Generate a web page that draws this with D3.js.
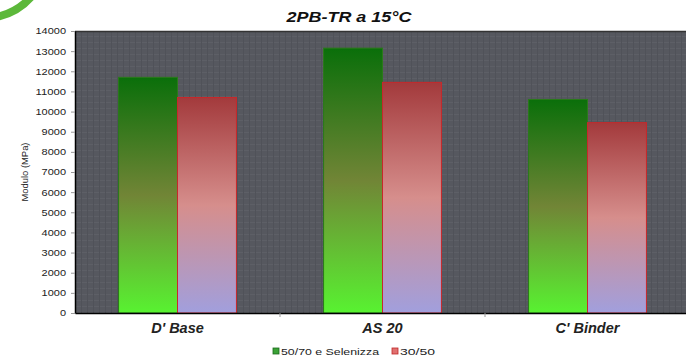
<!DOCTYPE html>
<html>
<head>
<meta charset="utf-8">
<script src="https://cdn.jsdelivr.net/npm/d3@7"></script>
<style>
body { margin: 0; background: #fff; }
svg { display: block; font-family: "Liberation Sans", Arial, sans-serif; }
</style>
</head>
<body>
<svg width="686" height="359"></svg>
<script>
var categories = ["D' Base", "AS 20", "C' Binder"];
var seriesNames = ["50/70 e Selenizza", "30/50"];
var selenizza = [11700, 13150, 10600];
var bitume3050 = [10700, 11450, 9450];
var yTicks = [0, 1000, 2000, 3000, 4000, 5000, 6000, 7000, 8000, 9000, 10000, 11000, 12000, 13000, 14000];

var svg = d3.select("svg"),
    width = +svg.attr("width"),
    height = +svg.attr("height");

var plot = {left: 75, top: 31, right: 690, bottom: 313};

var defs = svg.append("defs");

// bar gradients
var gGreen = defs.append("linearGradient").attr("id", "gGreen")
    .attr("x1", 0).attr("y1", 0).attr("x2", 0).attr("y2", 1);
gGreen.append("stop").attr("offset", "0%").attr("stop-color", "#0a6f0a");
gGreen.append("stop").attr("offset", "50%").attr("stop-color", "#718536");
gGreen.append("stop").attr("offset", "100%").attr("stop-color", "#58f231");

var gRed = defs.append("linearGradient").attr("id", "gRed")
    .attr("x1", 0).attr("y1", 0).attr("x2", 0).attr("y2", 1);
gRed.append("stop").attr("offset", "0%").attr("stop-color", "#a33a3c");
gRed.append("stop").attr("offset", "50%").attr("stop-color", "#d68e8c");
gRed.append("stop").attr("offset", "100%").attr("stop-color", "#a19fdd");

// texture for the plot background
var pat = defs.append("pattern").attr("id", "tex")
    .attr("width", 6).attr("height", 6).attr("patternUnits", "userSpaceOnUse");
pat.append("rect").attr("width", 6).attr("height", 6).attr("fill", "#56585f");
pat.append("line").attr("x1", 0).attr("y1", 0.5).attr("x2", 6).attr("y2", 0.5)
    .attr("stroke", "#5d5f66").attr("stroke-width", 1);
pat.append("line").attr("x1", 3.5).attr("y1", 0).attr("x2", 3.5).attr("y2", 6)
    .attr("stroke", "#505259").attr("stroke-width", 1);

// decorative swoosh, top left
svg.append("path")
    .attr("d", "M-3,17 Q18,12 31,-3")
    .attr("fill", "none")
    .attr("stroke", "#5cb83a")
    .attr("stroke-width", 8);

var x0 = d3.scaleBand().domain(categories).range([plot.left, plot.right]);
var x1 = d3.scaleBand().domain(seriesNames).range([0, x0.bandwidth() * 0.575]);
var y = d3.scaleLinear().domain([0, 14000]).range([plot.bottom, plot.top]);

svg.append("rect")
    .attr("x", plot.left).attr("y", plot.top)
    .attr("width", plot.right - plot.left).attr("height", plot.bottom - plot.top)
    .attr("fill", "url(#tex)");

svg.append("line")
    .attr("x1", plot.left).attr("x2", plot.right)
    .attr("y1", plot.top + 0.5).attr("y2", plot.top + 0.5)
    .attr("stroke", "#333").attr("stroke-width", 1.5);

var rows = categories.map(function(c, i) {
    return {cat: c, vals: [selenizza[i], bitume3050[i]]};
});

var groupOffset = (x0.bandwidth() - x0.bandwidth() * 0.575) / 2;

var group = svg.append("g").selectAll("g")
    .data(rows)
    .enter().append("g")
      .attr("transform", function(d) { return "translate(" + (x0(d.cat) + groupOffset) + ",0)"; });

group.selectAll("rect")
    .data(function(d) { return d.vals.map(function(v, j) { return {name: seriesNames[j], v: v}; }); })
    .enter().append("rect")
      .attr("x", function(d) { return x1(d.name); })
      .attr("y", function(d) { return y(d.v); })
      .attr("width", x1.bandwidth())
      .attr("height", function(d) { return y(0) - y(d.v); })
      .attr("fill", function(d, j) { return j === 0 ? "url(#gGreen)" : "url(#gRed)"; })
      .attr("stroke", function(d, j) { return j === 0 ? "#2a7a1a" : "#c8282a"; })
      .attr("stroke-width", 1);

// y axis (labels in the reference are stretched wide)
var yAxis = svg.append("g")
    .attr("transform", "translate(" + plot.left + ",0)")
    .call(d3.axisLeft(y).tickValues(yTicks).tickSize(4).tickSizeOuter(0).tickPadding(5).tickFormat(d3.format("d")));
yAxis.selectAll("text")
    .attr("font-size", 9).attr("fill", "#222")
    .attr("textLength", function(d) { return String(d).length * 6.1; })
    .attr("lengthAdjust", "spacingAndGlyphs");
yAxis.select(".domain").attr("stroke", "#000").attr("stroke-width", 1.5);
yAxis.selectAll(".tick line").attr("stroke", "#999");

// x axis
var xAxis = svg.append("g")
    .attr("transform", "translate(0," + plot.bottom + ")")
    .call(d3.axisBottom(x0).tickSize(0).tickPadding(8));
xAxis.select(".domain").attr("stroke", "#000").attr("stroke-width", 1.5);
xAxis.selectAll("text")
    .attr("font-size", 14.5).attr("font-weight", "bold").attr("font-style", "italic")
    .attr("fill", "#222").attr("dy", "0.8em");
svg.append("g").selectAll("line")
    .data(categories.slice(1))
    .enter().append("line")
      .attr("x1", function(d) { return x0(d); }).attr("x2", function(d) { return x0(d); })
      .attr("y1", plot.bottom).attr("y2", plot.bottom + 4)
      .attr("stroke", "#999");

// title
svg.append("text")
    .attr("x", 349).attr("y", 22)
    .attr("text-anchor", "middle")
    .attr("font-size", 14).attr("font-weight", "bold").attr("font-style", "italic")
    .attr("fill", "#111")
    .attr("textLength", 125).attr("lengthAdjust", "spacingAndGlyphs")
    .text("2PB-TR a 15°C");

// y label
svg.append("text")
    .attr("transform", "translate(28,172) rotate(-90)")
    .attr("text-anchor", "middle")
    .attr("font-size", 8.5).attr("fill", "#222")
    .attr("textLength", 59).attr("lengthAdjust", "spacingAndGlyphs")
    .text("Modulo (MPa)");

// legend
var legendX = [273, 392];
var legendTextLen = [98, 35];
var legendColors = ["#3aa236", "#e07070"];
var legendStroke = ["#1c6a1c", "#c02828"];
var leg = svg.append("g").selectAll("g")
    .data(seriesNames)
    .enter().append("g")
      .attr("transform", function(d, i) { return "translate(" + legendX[i] + ",348)"; });
leg.append("rect")
    .attr("width", 6).attr("height", 6)
    .attr("fill", function(d, i) { return legendColors[i]; })
    .attr("stroke", function(d, i) { return legendStroke[i]; })
    .attr("stroke-width", 0.8);
leg.append("text")
    .attr("x", 8).attr("y", 7)
    .attr("font-size", 9.5).attr("fill", "#222")
    .attr("textLength", function(d, i) { return legendTextLen[i]; })
    .attr("lengthAdjust", "spacingAndGlyphs")
    .text(function(d) { return d; });
</script>
</body>
</html>
